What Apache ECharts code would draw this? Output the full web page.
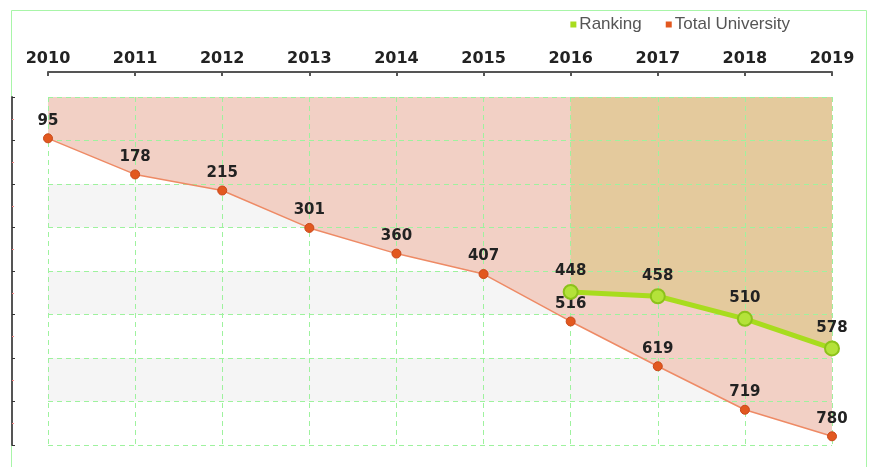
<!DOCTYPE html>
<html>
<head>
<meta charset="utf-8">
<script src="https://cdn.jsdelivr.net/npm/echarts@6/dist/echarts.min.js"></script>
<style>html,body{margin:0;padding:0;background:#fff}#c{width:871px;height:467px}</style>
</head>
<body>
<div id="c"></div>
<script>
const years = ['2010','2011','2012','2013','2014','2015','2016','2017','2018','2019'];
const totalUniversity = [95,178,215,301,360,407,516,619,719,780];
const ranking = [null,null,null,null,null,null,448,458,510,578];
const grayBands = [[200,300],[400,500],[600,700]];

const chart = echarts.init(document.getElementById('c'));
const labelFont = {fontFamily:'DejaVu Sans', fontWeight:'bold', fontSize:15, color:'#222'};
const gridLine = {show:true, lineStyle:{color:'#9ef29e', type:[5,4], width:1}};
chart.setOption({
  animation:false,
  backgroundColor:'#fff',
  graphic:[{type:'rect', shape:{x:11.5,y:10.5,width:855,height:470}, style:{fill:'none', stroke:'#a8f5a8', lineWidth:1}, z:-1}],
  legend:{
    data:['Ranking','Total University'],
    right:76, top:11, icon:'rect', itemWidth:6, itemHeight:6, itemGap:24,
    textStyle:{fontFamily:'Liberation Sans', fontSize:17, color:'#555', padding:[0,0,0,-2]}
  },
  grid:{left:48, right:39, top:97, bottom:22},
  xAxis:{
    type:'category', data:years, position:'top', offset:25, boundaryGap:false, z:3,
    axisLine:{onZero:false, lineStyle:{color:'#555', width:2}},
    axisTick:{inside:true, length:4, lineStyle:{color:'#555', width:2}},
    axisLabel:{fontFamily:'DejaVu Sans', fontWeight:'bold', fontSize:16, color:'#222', margin:5},
    splitLine:gridLine
  },
  yAxis:{
    type:'value', inverse:true, min:0, max:800, interval:100, offset:36, z:3,
    axisLine:{show:true, onZero:false, lineStyle:{color:'#555', width:2}},
    axisTick:{show:true, inside:true, length:3, lineStyle:{color:'#333'}},
    minorTick:{show:true, splitNumber:2, length:2, lineStyle:{color:'#f28a8a'}},
    axisLabel:{show:false},
    splitLine:gridLine,
    splitArea:{show:false}
  },
  series:[
    {
      name:'bands', type:'line', data:[], z:0, silent:true,
      markArea:{silent:true, itemStyle:{color:'#f5f5f5'},
        data:grayBands.map(b=>[{yAxis:b[0]},{yAxis:b[1]}])}
    },
    {
      name:'Total University', type:'line', data:totalUniversity, z:1, silent:true,
      symbol:'none', lineStyle:{width:0}, itemStyle:{color:'#e2581f'},
      areaStyle:{color:'#f2d0c5', opacity:1, origin:'start'}
    },
    {
      name:'Ranking', type:'line', data:ranking, z:2, silent:true,
      symbol:'none', lineStyle:{width:0}, itemStyle:{color:'#a8dc1e'},
      areaStyle:{color:'#e4ca9d', opacity:1, origin:'start'}
    },
    {
      name:'Total University', type:'line', data:totalUniversity, z:4,
      symbol:'circle', symbolSize:9,
      itemStyle:{color:'#e2581f', borderColor:'#c9481a', borderWidth:1},
      lineStyle:{color:'#ee8a65', width:1.5},
      label:Object.assign({show:true, position:'top', distance:5}, labelFont)
    },
    {
      name:'Ranking', type:'line', data:ranking, z:5,
      symbol:'circle', symbolSize:14,
      itemStyle:{color:'#b4e23a', borderColor:'#8cc21a', borderWidth:2},
      lineStyle:{color:'#a8dc1e', width:5},
      label:Object.assign({show:true, position:'top', distance:5}, labelFont)
    }
  ]
});
</script>
</body>
</html>
